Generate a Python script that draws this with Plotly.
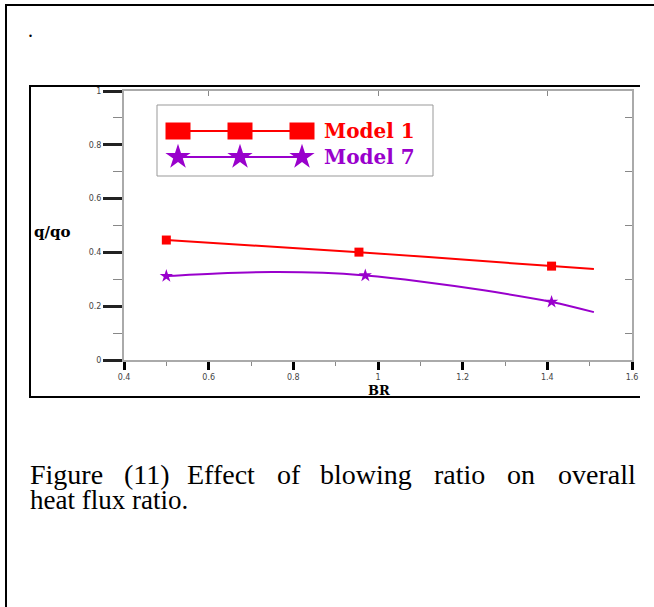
import plotly.graph_objects as go

# ---------------- data ----------------
br_ticks = [0.4, 0.6, 0.8, 1.0, 1.2, 1.4, 1.6]
q_ticks = [0, 0.2, 0.4, 0.6, 0.8, 1.0]

# Model 1 (red squares)
br_m1 = [0.5, 0.955, 1.41]
q_m1 = [0.446, 0.401, 0.349]
br_m1_line = [0.5, 0.955, 1.41, 1.51]
q_m1_line = [0.446, 0.401, 0.349, 0.338]

# Model 7 (purple stars)
br_m7 = [0.5, 0.97, 1.41]
q_m7 = [0.312, 0.314, 0.216]
br_m7_line = [0.5, 0.62, 0.75, 0.87, 0.97, 1.1, 1.25, 1.41, 1.51]
q_m7_line = [0.312, 0.322, 0.327, 0.324, 0.314, 0.292, 0.259, 0.216, 0.178]

series_names = ["Model 1", "Model 7"]
series_colors = ["#ff0000", "#9900cc"]

caption_line1 = ["Figure", "(11)", "Effect", "of", "blowing", "ratio", "on", "overall"]
caption_line1_x = [30, 124, 187, 277, 320, 434, 507, 558]
caption_line2 = "heat flux ratio."

# ---------------- layout geometry (pixels) ----------------
W, H = 654, 607
L, R, T, B = 124, 632, 91, 360


def px(x):
    return (x - L) / (R - L)


def py(y):
    return (B - y) / (B - T)


fig = go.Figure()

# data lines
fig.add_trace(go.Scatter(x=br_m1_line, y=q_m1_line, mode="lines",
                         line=dict(color=series_colors[0], width=2, shape="spline"),
                         showlegend=False, hoverinfo="skip"))
fig.add_trace(go.Scatter(x=br_m1, y=q_m1, mode="markers", name=series_names[0],
                         marker=dict(symbol="square", size=9, color=series_colors[0]),
                         showlegend=False))
fig.add_trace(go.Scatter(x=br_m7_line, y=q_m7_line, mode="lines",
                         line=dict(color=series_colors[1], width=2, shape="spline"),
                         showlegend=False, hoverinfo="skip"))
fig.add_trace(go.Scatter(x=br_m7, y=q_m7, mode="markers", name=series_names[1],
                         marker=dict(symbol="star", size=10, color=series_colors[1]),
                         showlegend=False))

# empty trace for the mirrored tick axes
fig.add_trace(go.Scatter(x=[None], y=[None], xaxis="x2", yaxis="y2",
                         showlegend=False, hoverinfo="skip"))

# legend glyphs on a pixel overlay axis
leg_x = [178, 240, 302]
leg_y = [131, 157]
fig.add_trace(go.Scatter(x=leg_x, y=[leg_y[1]] * 3, xaxis="x3", yaxis="y3",
                         mode="lines+markers",
                         line=dict(color=series_colors[1], width=2),
                         marker=dict(symbol="star", size=19, color=series_colors[1]),
                         showlegend=False, hoverinfo="skip"))
fig.add_trace(go.Scatter(x=[leg_x[0], leg_x[-1]], y=[leg_y[0]] * 2, xaxis="x3", yaxis="y3",
                         mode="lines", line=dict(color=series_colors[0], width=2),
                         showlegend=False, hoverinfo="skip"))

shapes = []
# legend squares (rectangles)
for cx in leg_x:
    shapes.append(dict(type="rect", xref="paper", yref="paper",
                       x0=px(cx - 12.5), x1=px(cx + 12.5),
                       y0=py(leg_y[0] + 8.5), y1=py(leg_y[0] - 8.5),
                       fillcolor=series_colors[0], line=dict(width=0)))
# legend box
shapes.append(dict(type="rect", xref="paper", yref="paper",
                   x0=px(157), x1=px(433), y0=py(176), y1=py(105),
                   line=dict(color="#999999", width=1), layer="below"))
# inner image frame (open on the right)
for (x0, y0, x1, y1) in [(29, 86, 640, 86), (29, 397, 640, 397), (30, 86, 30, 397)]:
    shapes.append(dict(type="line", xref="paper", yref="paper",
                       x0=px(x0), y0=py(y0), x1=px(x1), y1=py(y1),
                       line=dict(color="black", width=2)))
# clip beyond the inner frame
shapes.append(dict(type="rect", xref="paper", yref="paper",
                   x0=px(641), x1=px(660), y0=py(396), y1=py(365),
                   fillcolor="white", line=dict(width=0), layer="above"))
# page border
shapes.append(dict(type="line", xref="paper", yref="paper",
                   x0=px(5), y0=py(5), x1=px(660), y1=py(5),
                   line=dict(color="black", width=2)))
shapes.append(dict(type="line", xref="paper", yref="paper",
                   x0=px(6), y0=py(4), x1=px(6), y1=py(615),
                   line=dict(color="black", width=2)))

annotations = []
serif_bold = "DejaVu Serif"
annotations.append(dict(text="<b>" + series_names[0] + "</b>", xref="paper", yref="paper",
                        x=px(322), y=py(leg_y[0]), xanchor="left", yanchor="middle",
                        showarrow=False, font=dict(family=serif_bold, size=20, color=series_colors[0])))
annotations.append(dict(text="<b>" + series_names[1] + "</b>", xref="paper", yref="paper",
                        x=px(322), y=py(leg_y[1]), xanchor="left", yanchor="middle",
                        showarrow=False, font=dict(family=serif_bold, size=20, color=series_colors[1])))
annotations.append(dict(text="<b>q/qo</b>", xref="paper", yref="paper",
                        x=px(52), y=py(232), xanchor="center", yanchor="middle",
                        showarrow=False, font=dict(family=serif_bold, size=15, color="black")))
annotations.append(dict(text="<b>BR</b>", xref="paper", yref="paper",
                        x=px(379), y=py(390), xanchor="center", yanchor="middle",
                        showarrow=False, font=dict(family=serif_bold, size=13, color="black")))
annotations.append(dict(text=".", xref="paper", yref="paper",
                        x=px(30), y=py(30), xanchor="center", yanchor="middle",
                        showarrow=False, font=dict(family="Liberation Serif", size=20, color="black")))
for word, wx in zip(caption_line1, caption_line1_x):
    annotations.append(dict(text=word, xref="paper", yref="paper",
                            x=px(wx - 2), y=py(474), xanchor="left", yanchor="middle",
                            showarrow=False,
                            font=dict(family="Liberation Serif", size=28, color="black")))
annotations.append(dict(text=caption_line2, xref="paper", yref="paper",
                        x=px(28), y=py(500), xanchor="left", yanchor="middle",
                        showarrow=False, font=dict(family="Liberation Serif", size=27, color="black")))

tickfont = dict(family="DejaVu Sans", size=8, color="#444444")

fig.update_layout(
    width=W, height=H,
    margin=dict(l=L, r=W - R, t=T, b=H - B, pad=0),
    paper_bgcolor="white", plot_bgcolor="white",
    showlegend=False,
    shapes=shapes, annotations=annotations,
    xaxis=dict(range=[0.4, 1.6], tickmode="array", tickvals=br_ticks,
               ticktext=["0.4", "0.6", "0.8", "1", "1.2", "1.4", "1.6"],
               ticks="outside", ticklen=8, tickwidth=3, tickcolor="black",
               minor=dict(tickmode="array", tickvals=[0.5, 0.7, 0.9, 1.1, 1.3, 1.5],
                          ticks="outside", ticklen=4, tickwidth=1, tickcolor="#888888"),
               showline=True, linecolor="#aaaaaa", linewidth=2, mirror=True,
               showgrid=False, zeroline=False, tickfont=tickfont, fixedrange=True),
    yaxis=dict(range=[0, 1], tickmode="array", tickvals=q_ticks,
               ticktext=["0", "0.2", "0.4", "0.6", "0.8", "1"],
               ticks="outside", ticklen=19, tickwidth=3, tickcolor="#222222",
               minor=dict(tickmode="array", tickvals=[0.1, 0.3, 0.5, 0.7, 0.9],
                          ticks="outside", ticklen=9, tickwidth=1, tickcolor="#888888"),
               showline=True, linecolor="#aaaaaa", linewidth=2, mirror=True,
               showgrid=False, zeroline=False, tickfont=tickfont, fixedrange=True),
    xaxis2=dict(overlaying="x", side="top", range=[0.4, 1.6], tickmode="array",
                tickvals=[0.6, 1.0, 1.4], ticks="inside", ticklen=5, tickwidth=1,
                tickcolor="#888888", showticklabels=False, showline=False,
                showgrid=False, zeroline=False, anchor="y2"),
    yaxis2=dict(overlaying="y", side="right", range=[0, 1], tickmode="array",
                tickvals=[0.1, 0.3, 0.5, 0.7, 0.9], ticks="inside", ticklen=7, tickwidth=1,
                tickcolor="#888888", showticklabels=False, showline=False,
                showgrid=False, zeroline=False, anchor="x2"),
    xaxis3=dict(overlaying="x", range=[L, R], visible=False, anchor="y3"),
    yaxis3=dict(overlaying="y", range=[B, T], visible=False, anchor="x3"),
)

fig.write_html("out.html")
